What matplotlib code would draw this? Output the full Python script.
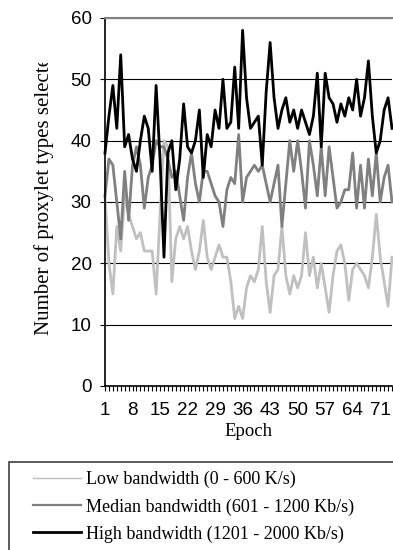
import matplotlib
matplotlib.use("Agg")
import matplotlib.pyplot as plt
from matplotlib.lines import Line2D
from matplotlib.patches import Rectangle
from matplotlib.transforms import Bbox, TransformedBbox

# values, one per epoch (1..74)
epochs = list(range(1, 75))
low = [31, 20, 15, 26, 22, 31, 28, 26, 24, 25,
       22, 22, 22, 15, 28, 40, 39, 17, 24, 26,
       24, 26, 22, 19, 22, 27, 21, 19, 21, 23,
       21, 21, 17, 11, 13, 11, 16, 18, 17, 19,
       26, 17, 12, 18, 19, 26, 18, 15, 18, 16,
       18, 25, 18, 21, 16, 20, 16, 12, 18, 22,
       23, 20, 14, 19, 20, 19, 18, 16, 21, 28,
       21, 17, 13, 21]
median = [31, 37, 36, 30, 24, 35, 27, 36, 39, 36,
          29, 34, 36, 40, 39, 39, 37, 34, 35, 31,
          27, 34, 38, 33, 30, 35, 35, 33, 31, 30,
          26, 32, 34, 33, 41, 30, 34, 35, 36, 35,
          36, 33, 30, 33, 36, 26, 33, 40, 35, 40,
          35, 29, 40, 36, 31, 39, 31, 39, 34, 29,
          30, 32, 32, 38, 29, 36, 29, 37, 31, 38,
          30, 34, 36, 30]
high = [38, 44, 49, 42, 54, 39, 41, 37, 35, 40,
        44, 42, 35, 49, 37, 21, 38, 40, 32, 37,
        46, 39, 38, 40, 45, 34, 41, 39, 45, 42,
        50, 42, 43, 52, 42, 58, 47, 42, 43, 44,
        36, 48, 56, 47, 42, 45, 47, 43, 45, 42,
        45, 43, 41, 44, 51, 39, 51, 47, 46, 43,
        46, 44, 47, 45, 50, 44, 47, 53, 44, 38,
        40, 45, 47, 42]

labels = ["Low bandwidth (0 - 600 K/s)",
          "Median bandwidth (601 - 1200 Kb/s)",
          "High bandwidth (1201 - 2000 Kb/s)"]
colors = ["#c0c0c0", "#808080", "#000000"]
xtick_labels = [1, 8, 15, 22, 29, 36, 43, 50, 57, 64, 71]
yticks = [0, 10, 20, 30, 40, 50, 60]

W, H = 393, 550
fig = plt.figure(figsize=(W / 100, H / 100), dpi=100, facecolor="w")
ax = fig.add_axes([105 / W, 1 - 386 / H, (392 - 105) / W, (386 - 18) / H])

for y, c in zip([low, median, high], colors):
    ax.plot(epochs, y, color=c, lw=2.0, solid_joinstyle="round", clip_on=False)

ax.set_xlim(1, 74)
ax.set_ylim(0, 60)
ax.set_yticks(yticks)
ax.yaxis.grid(True, color="black", lw=0.8)
ax.set_axisbelow(True)

ax.set_xticks(epochs)
ax.set_xticklabels([str(e) if e in xtick_labels else "" for e in epochs])

for lab in ax.get_xticklabels() + ax.get_yticklabels():
    lab.set_family("Liberation Sans")
    lab.set_fontsize(13.5)
ax.tick_params(axis="x", direction="out", length=3.5, width=0.8, pad=8)
ax.tick_params(axis="y", direction="out", length=3.6, width=0.8, pad=6)

ax.spines["right"].set_visible(False)
ax.spines["top"].set_color("#808080")
ax.spines["top"].set_linewidth(1.5)
ax.spines["left"].set_linewidth(1.2)
ax.spines["bottom"].set_linewidth(1.2)

fig.text(248 / W, 1 - 431 / H, "Epoch", ha="center", va="center",
         family="Liberation Serif", fontsize=13.5)

yl = fig.text(44 / W, 1 - 335 / H, "Number of proxylet types selected",
              rotation=90, ha="center", va="bottom",
              family="Liberation Serif", fontsize=15)
yl.set_clip_box(TransformedBbox(Bbox([[0, 0], [1, 1 - 63 / H]]), fig.transFigure))
yl.set_clip_on(True)

# legend box, running off the right and bottom edge like the source
fig.add_artist(Rectangle((9 / W, -0.1), 1.0, (1 - 462 / H) + 0.1,
                         transform=fig.transFigure, fill=False,
                         edgecolor="#404040", lw=1.2))
handles = [Line2D([], [], color=colors[0], lw=1.0),
           Line2D([], [], color=colors[1], lw=1.6),
           Line2D([], [], color=colors[2], lw=2.0)]
fig.legend(handles, labels, loc="upper left", bbox_to_anchor=(33 / W, 1 - 471 / H),
           frameon=False, prop={"family": "Liberation Serif", "size": 13},
           handlelength=2.66, handletextpad=0.28, labelspacing=0.55,
           borderpad=0, borderaxespad=0)

fig.savefig("out.png", dpi=100)
